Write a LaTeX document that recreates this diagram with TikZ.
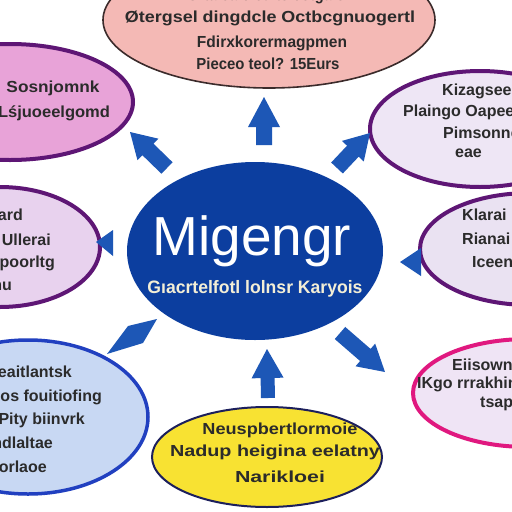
\documentclass[tikz,border=0pt]{standalone}
\usepackage{fontspec}
\setmainfont{Liberation Sans}
\usepackage{graphicx}
\usetikzlibrary{shapes.geometric,calc}
\definecolor{topfill}{HTML}{F4B9B5}
\definecolor{topdraw}{HTML}{3B2B2B}
\definecolor{ulfill}{HTML}{E8A3D8}
\definecolor{purpled}{HTML}{5E1675}
\definecolor{urfill}{HTML}{EEE6F5}
\definecolor{lmfill}{HTML}{E8D2EE}
\definecolor{rmfill}{HTML}{EAE2F2}
\definecolor{llfill}{HTML}{C8D8F3}
\definecolor{lldraw}{HTML}{2140C0}
\definecolor{yfill}{HTML}{F8E232}
\definecolor{ydraw}{HTML}{1C1F5C}
\definecolor{lrfill}{HTML}{EFE4F5}
\definecolor{lrdraw}{HTML}{E0187F}
\definecolor{centfill}{HTML}{0C3E9F}
\definecolor{arrowblue}{HTML}{1D57B6}
\definecolor{txtgray}{HTML}{2B2B2B}
\definecolor{subtxt}{HTML}{F3EED6}
\tikzset{
  bubble/.style={ellipse, inner sep=0pt},
  lbl/.style={font=\bfseries\fontsize{16}{16}\selectfont, text=txtgray, inner sep=0pt},
}
\newcommand\fitw[2]{\resizebox{#1pt}{\height}{#2}}
% tail, tip, shaft half width, head half width, head length
\newcommand\blockarrow[5]{%
  \fill[arrowblue] let \p1=(#1), \p2=(#2),
    \n1={atan2(\y2-\y1,\x2-\x1)}, \n2={veclen(\x2-\x1,\y2-\y1)} in
    [shift={(\p1)}, rotate=\n1]
    (0pt,-#3pt) -- ({(\n2-#5)*1pt},-#3pt) -- ({(\n2-#5)*1pt},-#4pt) --
    ({\n2*1pt},0pt) -- ({(\n2-#5)*1pt},#4pt) -- ({(\n2-#5)*1pt},#3pt) --
    (0pt,#3pt) -- cycle;}
\begin{document}
\begin{tikzpicture}[x=1pt,y=-1pt]
\useasboundingbox (0,0) rectangle (512,512);
\fill[white] (0,0) rectangle (512,512);
\clip (0,0) rectangle (512,512);

% bubbles
\node[bubble, fill=topfill, draw=topdraw, line width=1.6pt, minimum width=332pt, minimum height=136pt] (top) at (269,20) {};
\node[bubble, fill=ulfill, draw=purpled, line width=4pt, minimum width=246pt, minimum height=116pt] (ul) at (10,102) {};
\node[bubble, fill=urfill, draw=purpled, line width=4pt, minimum width=220pt, minimum height=116pt] (ur) at (480,129) {};
\node[bubble, fill=lmfill, draw=purpled, line width=4pt, minimum width=200pt, minimum height=120pt] (lm) at (0,247) {};
\node[bubble, fill=rmfill, draw=purpled, line width=4pt, minimum width=220pt, minimum height=112pt] (rm) at (530,249) {};
\node[bubble, fill=llfill, draw=lldraw, line width=3.5pt, minimum width=240pt, minimum height=154pt] (ll) at (28,417) {};
\node[bubble, fill=yfill, draw=ydraw, line width=2pt, minimum width=230pt, minimum height=100pt] (bot) at (267,457) {};
\node[bubble, fill=lrfill, draw=lrdraw, line width=4pt, minimum width=230pt, minimum height=108pt] (lr) at (528,393) {};
\node[bubble, fill=centfill, minimum width=256pt, minimum height=178pt] (cent) at (255,251) {};

% central texts
\node[font=\fontsize{55}{55}\selectfont, text=white, inner sep=0pt, anchor=base] (title) at (252,255) {Migengr};
\node[font=\bfseries\fontsize{18}{18}\selectfont, text=subtxt, inner sep=0pt, anchor=base] (sub) at (255,293) {\fitw{215}{Gıacrtelfotl lolnsr Karyois}};

% top texts
\node[lbl] (t1) at (266,-4) {\fitw{158}{Grtalcalo cuits cotgaio}};
\node[lbl] (t2) at (270,18) {\fitw{290}{Øtergsel dingdcle Octbcgnuogertl}};
\node[lbl] (t3) at (272,43) {\fitw{150}{Fdirxkorermagpmen}};
\node[lbl] (t4) at (268,64) {\fitw{143}{Pieceo teol? 15Eurs}};

% upper-left texts
\node[lbl] (ul1) at (53,88) {\fitw{93}{Sosnjomnk}};
\node[lbl] (ul2) at (54,113) {\fitw{112}{Lśjuoeelgomd}};

% upper-right texts
\node[lbl, anchor=west] (ur1) at (442,91) {Kizagseeu};
\node[lbl, anchor=west] (ur2) at (403,112) {Plaingo Oapeer};
\node[lbl, anchor=west] (ur3) at (443,133) {Pimsonne};
\node[lbl, anchor=west] (ur4) at (455,153) {eae};

% left-middle texts
\node[lbl, anchor=east] (lm1) at (23,215) {Tard};
\node[lbl, anchor=east] (lm2) at (51,240) {Cfor Ullerai};
\node[lbl, anchor=east] (lm3) at (55,263) {Pgpoorltg};
\node[lbl, anchor=east] (lm4) at (12,286) {nu};

% right-middle texts
\node[lbl, anchor=west] (rm1) at (462,215) {Klarai};
\node[lbl, anchor=west] (rm2) at (462,239) {Rianai};
\node[lbl, anchor=west] (rm3) at (472,262) {Iceen};

% lower-left texts
\node[lbl, anchor=east] (ll1) at (72,372) {Vaiteaitlantsk};
\node[lbl, anchor=east] (ll2) at (102,397) {Qdos fouitiofing};
\node[lbl, anchor=east] (ll3) at (85,420) {Pity biinvrk};
\node[lbl, anchor=east] (ll4) at (53,443) {Indlaltae};
\node[lbl, anchor=east] (ll5) at (47,467) {Sorlaoe};

% bottom texts
\node[lbl] (b1) at (280,430) {\fitw{155}{Neuspbertlormoie}};
\node[lbl] (b2) at (275,452) {\fitw{210}{Nadup heigina eelatny}};
\node[lbl] (b3) at (280,477) {\fitw{90}{Narikloei}};

% lower-right texts
\node[lbl, anchor=west] (lr1) at (452,365) {Eiisowni};
\node[lbl, anchor=west] (lr2) at (417,384) {IKgo rrrakhing};
\node[lbl, anchor=west] (lr3) at (480,404) {tsap};

% arrows
\coordinate (aTt) at (264,145); \coordinate (aTh) at (264,97);
\coordinate (aULt) at (167,168); \coordinate (aULh) at (130,132);
\coordinate (aURt) at (337,168); \coordinate (aURh) at (370,133);
\coordinate (aBt) at (268,398); \coordinate (aBh) at (267,349);
\coordinate (aLRt) at (340,333); \coordinate (aLRh) at (385,372);
\blockarrow{aTt}{aTh}{8}{16}{30}
\blockarrow{aULt}{aULh}{8}{15}{25}
\blockarrow{aURt}{aURh}{8}{15}{25}
\blockarrow{aBt}{aBh}{7}{16}{29}
\blockarrow{aLRt}{aLRh}{8}{15}{26}
% small arrow heads
\coordinate (aLh) at (96,242);
\fill[arrowblue] (aLh) -- (113,230) -- (113,256) -- cycle;
\coordinate (aRh) at (400,262);
\fill[arrowblue] (aRh) -- (421,248) -- (421,276) -- cycle;
\coordinate (aLLh) at (107,354);
\fill[arrowblue] (aLLh) -- (128,326) -- (157,319) -- (143,343) -- cycle;
\end{tikzpicture}
\end{document}
